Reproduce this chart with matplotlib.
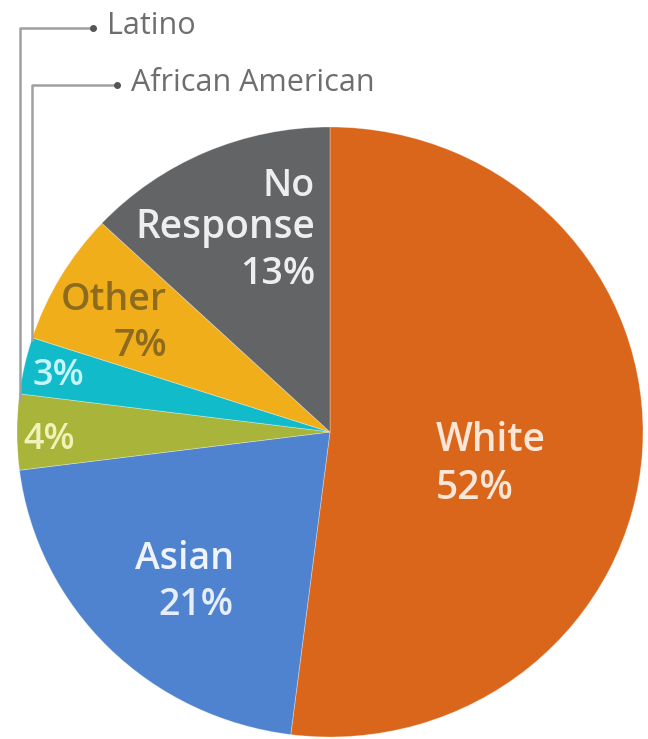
import matplotlib.pyplot as plt

plt.rcParams['font.family'] = ['Open Sans', 'DejaVu Sans']

# ethnicity breakdown, clockwise from 12 o'clock
groups = ["White", "Asian", "Latino", "African American", "Other", "No Response"]
shares = [52, 21, 4, 3, 7, 13]
colors = ["#D9661B", "#4F83CF", "#A8B43A", "#12BBCA", "#F1AE1B", "#636466"]

W, H = 648, 739
fig = plt.figure(figsize=(W / 100, H / 100), dpi=100)

# pie box in pixels: left, right, top, bottom
pl, pr, pt, pb = 17, 643, 127, 737
ax = fig.add_axes([pl / W, 1 - pb / H, (pr - pl) / W, (pb - pt) / H])
ax.pie(shares, colors=colors, startangle=90, counterclock=False,
       wedgeprops=dict(linewidth=0.6, edgecolor=(1, 1, 1, 0.35)))
ax.set_aspect('auto')
ax.set_xlim(-1, 1)
ax.set_ylim(-1, 1)
ax.axis('off')


def fx(x):
    return x / W


def fy(y):
    return 1 - y / H


def label(x, y, s, color, size=27, ha='left', weight='semibold'):
    fig.text(fx(x), fy(y), s, color=color, fontsize=size, ha=ha, va='center',
             fontweight=weight)


# slice labels
label(436, 441, "White", "#FBE6D8", 28)
label(436, 489, "52%", "#FBE6D8", 28)
label(135, 559, "Asian", "#EEF3FC")
label(158, 605, "21%", "#E6EEFB")
label(23, 440, "4%", "#F1F2B8", 26)
label(33, 376, "3%", "#C6F6FA", 26)
label(167, 300, "Other", "#8C6A1E", ha='right')
label(167, 346, "7%", "#8C6A1E", ha='right')
label(315, 186, "No", "#EEEEEE", ha='right')
label(315, 228, "Response", "#EEEEEE", 28, ha='right')
label(315, 274, "13%", "#EEEEEE", ha='right')

# leader lines for the two thin slices
line_col = "#A0A0A0"
for x0, y_top, y_end, x_dot, text in [(20, 28, 400, 93, "Latino"),
                                      (32, 85, 340, 117, "African American")]:
    fig.add_artist(plt.Line2D([fx(x0), fx(x0), fx(x_dot)],
                              [fy(y_end), fy(y_top), fy(y_top)],
                              color=line_col, lw=1.8))
    fig.add_artist(plt.Line2D([fx(x_dot)], [fy(y_top)], marker='o',
                              markersize=4, color="#555555"))
    label(x_dot + 14, y_top - 2, text, "#6E6E6E", 22, weight='normal')

fig.savefig("out.png", dpi=100)
